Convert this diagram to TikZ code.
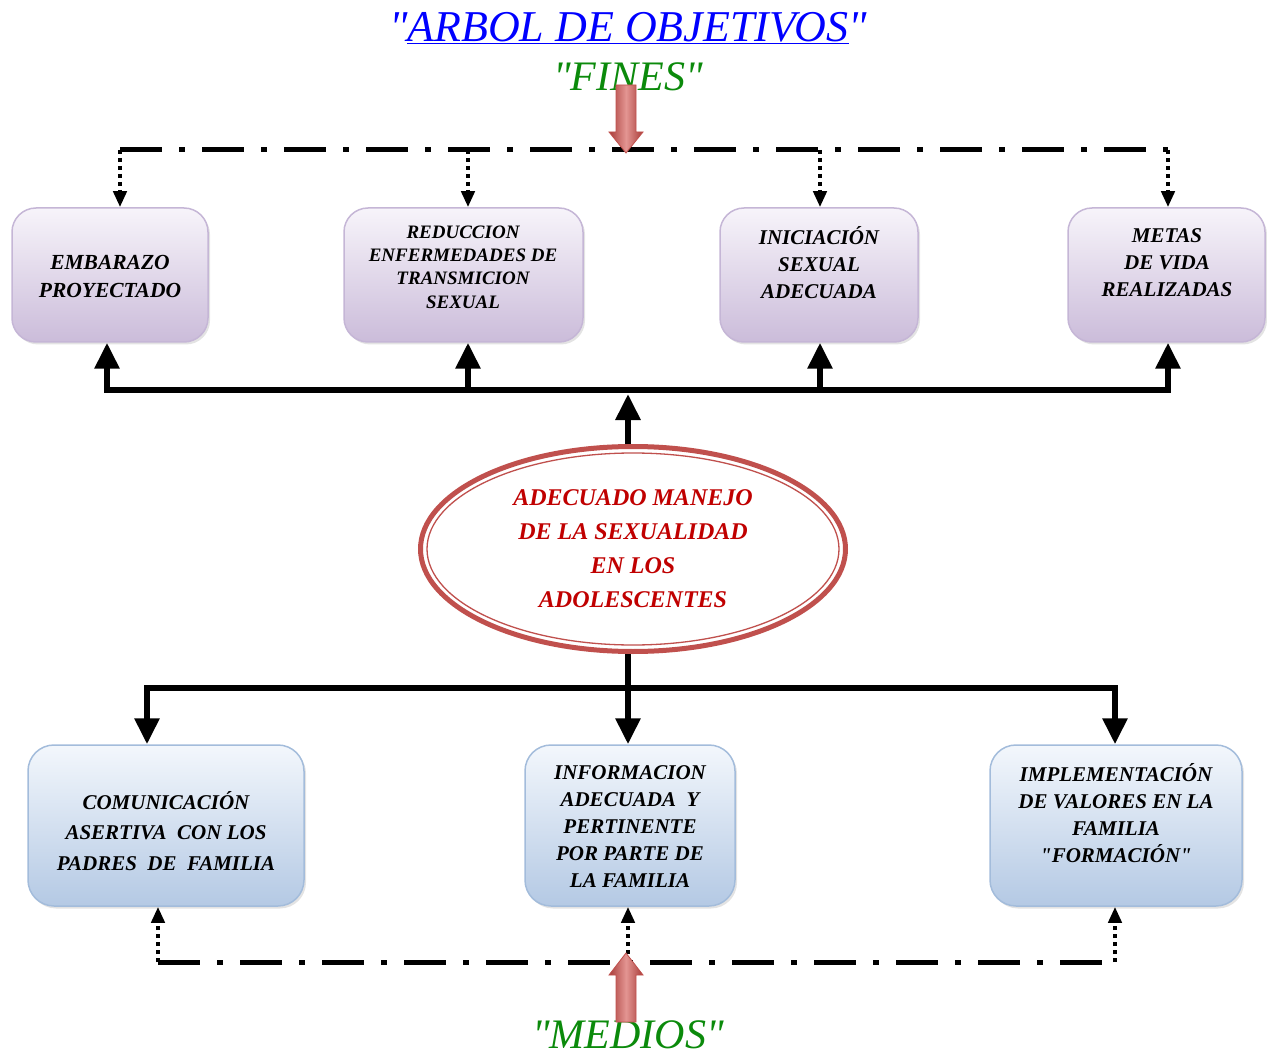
\documentclass[tikz,border=0pt]{standalone}
\usepackage{fontspec}
\setmainfont{Liberation Serif}[Ligatures=TeXOff]
\usetikzlibrary{arrows.meta,shadows,shapes.geometric}
\definecolor{lavtop}{HTML}{F7F4FA}
\definecolor{lavbot}{HTML}{CBBCDA}
\definecolor{lavdraw}{HTML}{C5B6D6}
\definecolor{blutop}{HTML}{F3F7FC}
\definecolor{blubot}{HTML}{B4C9E4}
\definecolor{bludraw}{HTML}{A3BCDB}
\definecolor{ellred}{HTML}{C0504D}
\definecolor{arrdark}{HTML}{A83C39}
\definecolor{arrlight}{HTML}{E39592}
\definecolor{txtred}{HTML}{C00000}
\definecolor{fgreen}{HTML}{0B8A0B}
\definecolor{tblue}{HTML}{0000FF}
\newcommand\qq{\symbol{34}}
\tikzset{
  bigtip/.tip={Triangle[width=24pt,length=26pt]},
  smalltip/.tip={Triangle[width=13pt,length=16pt]}
}
\begin{document}
\begin{tikzpicture}[x=1pt,y=-1pt,
  topbox/.style={draw=lavdraw, line width=1.5pt, rounded corners=24pt,
    top color=lavtop, bottom color=lavbot, minimum height=134pt, inner sep=0pt,
    drop shadow={opacity=0.22,shadow xshift=2pt,shadow yshift=-2.5pt}},
  botbox/.style={draw=bludraw, line width=1.5pt, rounded corners=26pt,
    top color=blutop, bottom color=blubot, minimum height=161pt, inner sep=0pt,
    drop shadow={opacity=0.22,shadow xshift=2pt,shadow yshift=-2.5pt}},
  btxt/.style 2 args={align=center, inner sep=0pt, text=black,
    font=\bfseries\itshape\fontsize{#1}{#2}\selectfont},
  bus/.style={line width=6pt, black},
  dashdot/.style={line width=5pt, black, dash pattern=on 42pt off 17pt on 6pt off 17pt},
  dotv/.style={line width=4pt, black, dash pattern=on 4pt off 4pt},
  redarrow/.style={draw=ellred, line width=0.8pt, left color=arrdark, right color=arrdark, middle color=arrlight},
  heading/.style={inner sep=0pt, font=\itshape\fontsize{42}{46}\selectfont}
]
\useasboundingbox (0,0) rectangle (1267,1059);

% titles
\node[heading, text=tblue, font=\itshape\fontsize{44}{48}\selectfont] (title) at (628,28) {\qq\underline{ARBOL DE OBJETIVOS}\qq};
\node[heading, text=fgreen] (fines) at (628,77) {\qq FINES\qq};
\node[heading, text=fgreen] (medios) at (628,1035) {\qq MEDIOS\qq};

% top boxes
\node[topbox, minimum width=196pt] (t1) at (110,275) {};
\node[topbox, minimum width=239pt] (t2) at (463.5,275) {};
\node[topbox, minimum width=198pt] (t3) at (819,275) {};
\node[topbox, minimum width=197pt] (t4) at (1166.5,275) {};
\node[btxt={21.5}{28}] (t1l) at (110,276) {EMBARAZO\\PROYECTADO};
\node[btxt={19}{23.3}] (t2l) at (463,267) {REDUCCION\\ENFERMEDADES DE\\TRANSMICION\\SEXUAL};
\node[btxt={21}{27}] (t3l) at (819,263) {INICIACIÓN\\SEXUAL\\ADECUADA};
\node[btxt={21}{27}] (t4l) at (1167,263) {METAS\\DE VIDA\\REALIZADAS};

% bottom boxes
\node[botbox, minimum width=276pt] (b1) at (166,825.5) {};
\node[botbox, minimum width=210pt] (b2) at (630,825.5) {};
\node[botbox, minimum width=252pt] (b3) at (1116,825.5) {};
\node[btxt={21}{30.5}] (b1l) at (166,831) {COMUNICACIÓN\\ASERTIVA\ \ CON LOS\\PADRES\ \ DE\ \ FAMILIA};
\node[btxt={21}{27}] (b2l) at (630,827) {INFORMACION\\ADECUADA\ \ Y\\PERTINENTE\\POR PARTE DE\\LA FAMILIA};
\node[btxt={21}{27}] (b3l) at (1116,813) {IMPLEMENTACIÓN\\DE VALORES EN LA\\FAMILIA\\\qq FORMACIÓN\qq};

% central ellipse
\node[ellipse, draw=ellred, line width=5pt, fill=white, minimum width=425pt, minimum height=205pt,
  inner sep=0pt, align=center, text=txtred, font=\bfseries\itshape\fontsize{24}{34}\selectfont]
  (c) at (633,549) {ADECUADO MANEJO\\DE LA SEXUALIDAD\\EN LOS\\ADOLESCENTES};
\draw[ellred, line width=1.3pt] (c.center) ellipse [x radius=206, y radius=96];

% coordinates
\coordinate (hT) at (628,390);
\coordinate (hTa) at (628,394);
\coordinate (hB) at (628,688);
\coordinate (dT) at (628,150);
\coordinate (dB) at (628,962);

% solid connectors top
\draw[bus, bigtip-bigtip] ([xshift=-3pt]t1.south) |- (hT) -| ([xshift=1.5pt]t4.south);
\draw[bus, -bigtip] ([xshift=4.5pt]t2.south |- hT) -- ([xshift=4.5pt]t2.south);
\draw[bus, -bigtip] ([xshift=1pt]t3.south |- hT) -- ([xshift=1pt]t3.south);
\draw[bus, -bigtip] (c.north -| hT) -- (hTa);

% solid connectors bottom
\draw[bus, -bigtip] (c.south -| hB) -- (b2.north -| hB);
\draw[bus, bigtip-bigtip] ([xshift=-19pt]b1.north) |- (hB) -| ([xshift=-1pt]b3.north);

% dash-dot top
\draw[dashdot] ([xshift=10pt]t1.north |- dT) -- ([xshift=1.5pt]t4.north |- dT);
\draw[dotv, -smalltip] ([xshift=10pt]t1.north |- dT) -- ([xshift=10pt]t1.north);
\draw[dotv, -smalltip] ([xshift=4.5pt]t2.north |- dT) -- ([xshift=4.5pt]t2.north);
\draw[dotv, -smalltip] ([xshift=1pt]t3.north |- dT) -- ([xshift=1pt]t3.north);
\draw[dotv, -smalltip] ([xshift=1.5pt]t4.north |- dT) -- ([xshift=1.5pt]t4.north);

% dash-dot bottom
\draw[dashdot] ([xshift=-8pt]b1.south |- dB) -- ([xshift=-1pt]b3.south |- dB);
\draw[dotv, -smalltip] ([xshift=-8pt]b1.south |- dB) -- ([xshift=-8pt]b1.south);
\draw[dotv, -smalltip] ([xshift=-2pt]b2.south |- dB) -- ([xshift=-2pt]b2.south);
\draw[dotv, -smalltip] ([xshift=-1pt]b3.south |- dB) -- ([xshift=-1pt]b3.south);

% red block arrows
\path[redarrow] (616,85) -- (636,85) -- (636,132) -- (643,132) -- (626,153)
  -- (609,132) -- (616,132) -- cycle;
\path[redarrow] (616,1022) -- (636,1022) -- (636,975) -- (643,975) -- (626,953)
  -- (609,975) -- (616,975) -- cycle;
\end{tikzpicture}
\end{document}
